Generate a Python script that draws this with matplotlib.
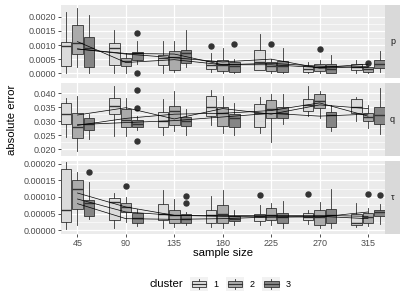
import matplotlib
matplotlib.use("Agg")
import matplotlib.pyplot as plt
from matplotlib.legend_handler import HandlerBase
from matplotlib.patches import Rectangle, Patch
from matplotlib.lines import Line2D
from matplotlib.ticker import FormatStrFormatter

plt.rcParams['font.family'] = ['Liberation Sans', 'DejaVu Sans']

sizes = [45, 90, 135, 180, 225, 270, 315]
clusters = ['1', '2', '3']
facets = ['p', 'q', 'τ']

# ---- p ----  (rows: cluster 1, 2, 3; columns: sample size)
p_lo = [[0.0, 0.0, 0.0, 0.00004, 0.0001, 0.0, 0.0],
        [0.00022, 0.0, 0.00004, 0.0, 0.0, 0.0, 0.0],
        [0.0, 0.00034, 0.00022, 0.0, 0.0, 0.0, 0.00004]]
p_q1 = [[0.00024, 0.0003, 0.0003, 0.00016, 0.0001, 0.00004, 0.0001],
        [0.00067, 0.00024, 0.0001, 0.00007, 0.00007, 0.00007, 0.00006],
        [0.00022, 0.00048, 0.00037, 0.00004, 0.00004, 0.0, 0.00019]]
p_med = [[0.00098, 0.00088, 0.00055, 0.0003, 0.0004, 0.00016, 0.00022],
         [0.00106, 0.00042, 0.00058, 0.00028, 0.00025, 0.00022, 0.00016],
         [0.0009, 0.0007, 0.0007, 0.00024, 0.00024, 0.00016, 0.00034]]
p_q3 = [[0.00112, 0.00106, 0.00066, 0.00042, 0.00084, 0.00024, 0.00034],
        [0.00172, 0.00055, 0.0008, 0.00046, 0.0004, 0.00034, 0.00022],
        [0.0013, 0.00076, 0.00084, 0.0004, 0.00043, 0.00034, 0.00046]]
p_hi = [[0.00218, 0.00152, 0.00116, 0.00073, 0.0014, 0.0004, 0.00048],
        [0.0023, 0.0007, 0.00116, 0.00088, 0.00052, 0.00046, 0.00028],
        [0.00208, 0.00116, 0.00154, 0.00052, 0.00088, 0.00064, 0.0008]]
p_mean = [[0.00086, 0.00068, 0.00055, 0.0004, 0.0005, 0.00018, 0.00024],
          [0.00112, 0.00038, 0.00048, 0.0003, 0.00035, 0.00025, 0.0002],
          [0.00086, 0.0007, 0.00068, 0.0003, 0.0003, 0.0002, 0.00032]]
# (sample size, cluster, value)
p_out = [(90, 3, 0.00142), (90, 3, 0.0), (180, 1, 0.00096), (180, 3, 0.00104),
         (225, 2, 0.00104), (270, 2, 0.00086), (315, 2, 0.00037)]

# ---- q ----
q_lo = [[0.0243, 0.0246, 0.0252, 0.0288, 0.0258, 0.0318, 0.0302],
        [0.0195, 0.0246, 0.0264, 0.0258, 0.0226, 0.031, 0.0274],
        [0.0238, 0.027, 0.025, 0.025, 0.029, 0.0264, 0.0254]]
q_q1 = [[0.029, 0.0326, 0.0278, 0.0318, 0.0278, 0.0338, 0.033],
        [0.024, 0.0278, 0.0288, 0.0282, 0.0312, 0.0346, 0.0302],
        [0.027, 0.0278, 0.0282, 0.0278, 0.031, 0.0278, 0.029]]
q_med = [[0.0326, 0.0354, 0.0302, 0.035, 0.033, 0.0357, 0.035],
         [0.0278, 0.0306, 0.0336, 0.033, 0.0342, 0.0372, 0.0314],
         [0.029, 0.029, 0.030, 0.0312, 0.033, 0.0322, 0.0322]]
q_q3 = [[0.0366, 0.0381, 0.0334, 0.0388, 0.0362, 0.0378, 0.0378],
        [0.033, 0.0345, 0.0354, 0.035, 0.0374, 0.0396, 0.033],
        [0.0312, 0.0306, 0.0316, 0.0326, 0.035, 0.0332, 0.035]]
q_hi = [[0.0381, 0.0426, 0.0378, 0.041, 0.0386, 0.0426, 0.0386],
        [0.039, 0.0381, 0.0408, 0.039, 0.0396, 0.0408, 0.0357],
        [0.0324, 0.0318, 0.0342, 0.0366, 0.0396, 0.0357, 0.0417]]
q_mean = [[0.0322, 0.0348, 0.0308, 0.0345, 0.0325, 0.0358, 0.0345],
          [0.0285, 0.031, 0.0325, 0.0328, 0.0338, 0.0365, 0.0318],
          [0.0288, 0.0295, 0.0302, 0.0315, 0.0328, 0.0318, 0.0325]]
q_out = [(90, 3, 0.041), (90, 3, 0.0348), (90, 3, 0.0228)]

# ---- tau ----
t_lo = [[0.000003, 0.000008, 0.000008, 0.00001, 0.000015, 0.000018, 0.00001],
        [0.000017, 0.000024, 0.00001, 0.000008, 0.000015, 0.000008, 0.000012],
        [0.000034, 0.000013, 0.000015, 0.000015, 0.000008, 0.000008, 0.000018]]
t_q1 = [[0.000024, 0.000031, 0.00003, 0.000022, 0.000028, 0.00003, 0.000015],
        [0.000065, 0.000055, 0.000022, 0.000022, 0.00003, 0.000015, 0.000022],
        [0.000042, 0.000021, 0.000022, 0.000028, 0.000022, 0.000022, 0.000042]]
t_med = [[0.00006, 0.000086, 0.00005, 0.000045, 0.000042, 0.00004, 0.000022],
         [0.000125, 0.000071, 0.000045, 0.00005, 0.000045, 0.00004, 0.00004],
         [0.000083, 0.000037, 0.000035, 0.000035, 0.00004, 0.000045, 0.000055]]
t_q3 = [[0.000185, 0.000097, 0.000078, 0.000062, 0.00005, 0.000052, 0.000048],
        [0.000152, 0.000083, 0.00006, 0.000075, 0.000068, 0.00006, 0.000052],
        [0.000092, 0.000052, 0.000048, 0.000042, 0.000052, 0.000065, 0.000062]]
t_hi = [[0.000204, 0.000112, 0.000122, 0.000102, 0.000075, 0.000062, 0.000082],
        [0.000175, 0.0001, 0.000095, 0.00012, 0.000082, 0.000085, 0.000068],
        [0.000144, 0.000065, 0.000055, 0.000062, 0.000088, 0.000125, 0.00008]]
t_mean = [[0.000094, 0.000055, 0.000045, 0.000042, 0.00004, 0.000042, 0.000035],
          [0.000112, 0.00007, 0.000045, 0.000045, 0.000045, 0.000045, 0.000042],
          [0.00008, 0.000035, 0.000033, 0.000035, 0.00004, 0.00004, 0.000055]]
t_out = [(45, 3, 0.000175), (90, 2, 0.000133), (135, 3, 0.000104), (135, 3, 0.000081),
         (225, 1, 0.000105), (270, 1, 0.000108), (315, 2, 0.00011), (315, 3, 0.000105)]

panel_data = {
    'p': (p_lo, p_q1, p_med, p_q3, p_hi, p_mean, p_out),
    'q': (q_lo, q_q1, q_med, q_q3, q_hi, q_mean, q_out),
    'τ': (t_lo, t_q1, t_med, t_q3, t_hi, t_mean, t_out),
}
y_ticks = {
    'p': [0.0, 0.0005, 0.001, 0.0015, 0.002],
    'q': [0.02, 0.025, 0.03, 0.035, 0.04],
    'τ': [0.0, 0.00005, 0.0001, 0.00015, 0.0002],
}
y_fmt = {'p': '%.4f', 'q': '%.3f', 'τ': '%.5f'}
y_lim = {'p': (-0.00017, 0.00242), 'q': (0.0176, 0.0436), 'τ': (-0.000011, 0.000208)}

fills = ['#DBDBDB', '#ABABAB', '#858585']
edge = '#333333'
bg = '#EBEBEB'
offsets = [-10.7, 0.0, 10.7]
box_w = 9.8

fig = plt.figure(figsize=(4.07, 3.05), dpi=100)
W, H = 407, 305
left, right = 61, 385
rows = [(5, 78), (83, 156), (161, 234)]

axes = []
for (top, bot), name in zip(rows, facets):
    ax = fig.add_axes([left / W, 1 - bot / H, (right - left) / W, (bot - top) / H])
    sax = fig.add_axes([right / W, 1 - bot / H, 15 / W, (bot - top) / H])
    sax.set_facecolor('#D9D9D9')
    sax.set_xticks([])
    sax.set_yticks([])
    for s in sax.spines.values():
        s.set_visible(False)
    sax.text(0.5, 0.5, name, ha='center', va='center',
             fontsize=6.5, color='#1A1A1A', transform=sax.transAxes)

    lo, q1, med, q3, hi, mean, out = panel_data[name]
    ax.set_facecolor(bg)
    for s in ax.spines.values():
        s.set_visible(False)
    ax.set_axisbelow(True)

    for c in range(3):
        stats = []
        for j, n in enumerate(sizes):
            fl = [v for (ss, cc, v) in out if ss == n and cc == c + 1]
            stats.append(dict(whislo=lo[c][j], q1=q1[c][j], med=med[c][j],
                              q3=q3[c][j], whishi=hi[c][j], fliers=fl))
        ax.bxp(stats, positions=[n + offsets[c] for n in sizes], widths=box_w,
               patch_artist=True, showcaps=False, manage_ticks=False,
               boxprops=dict(facecolor=fills[c], edgecolor=edge, linewidth=0.6),
               whiskerprops=dict(color=edge, linewidth=0.6),
               medianprops=dict(color=edge, linewidth=1.0),
               flierprops=dict(marker='o', markersize=3.6, markerfacecolor=edge,
                               markeredgecolor=edge, linestyle='none'))
    for c in range(3):
        ax.plot(sizes, mean[c], color='black', linewidth=0.5, zorder=5)

    ax.set_xlim(29.7, 330.8)
    ax.set_ylim(*y_lim[name])
    yt = y_ticks[name]
    ax.set_yticks(yt)
    ax.set_yticks([(a + b) / 2 for a, b in zip(yt[:-1], yt[1:])], minor=True)
    ax.yaxis.set_major_formatter(FormatStrFormatter(y_fmt[name]))
    ax.set_xticks(sizes)
    ax.grid(which='major', color='white', linewidth=0.9)
    ax.grid(which='minor', axis='y', color='white', linewidth=0.45)
    ax.tick_params(which='major', length=2.2, width=0.6, color='#333333',
                   labelsize=6.5, labelcolor='#4D4D4D', pad=1.2)
    ax.tick_params(which='minor', length=0)
    if name != 'τ':
        ax.tick_params(axis='x', labelbottom=False, length=0)
    axes.append(ax)

fig.text(12 / W, 1 - 120 / H, 'absolute error', rotation=90, ha='center',
         va='center', fontsize=8.2, color='black')
fig.text((left + right) / 2 / W, 1 - 253 / H, 'sample size', ha='center',
         va='center', fontsize=8.2, color='black')


class BoxKey(HandlerBase):
    def create_artists(self, legend, orig_handle, xdescent, ydescent,
                       width, height, fontsize, trans):
        x0, y0 = -xdescent, -ydescent
        fc = orig_handle.get_facecolor()
        cx = x0 + width / 2
        bw = width * 0.8
        bg_rect = Rectangle((x0, y0), width, height, facecolor='#F2F2F2',
                            edgecolor='none', transform=trans)
        box = Rectangle((cx - bw / 2, y0 + height * 0.25), bw, height * 0.5,
                        facecolor=fc, edgecolor=edge, linewidth=0.6, transform=trans)
        med_l = Line2D([cx - bw / 2, cx + bw / 2], [y0 + height / 2] * 2,
                       color=edge, linewidth=0.8, transform=trans)
        w1 = Line2D([cx, cx], [y0 + height * 0.1, y0 + height * 0.25],
                    color=edge, linewidth=0.6, transform=trans)
        w2 = Line2D([cx, cx], [y0 + height * 0.75, y0 + height * 0.9],
                    color=edge, linewidth=0.6, transform=trans)
        return [bg_rect, box, med_l, w1, w2]


handles = [Patch(facecolor=f) for f in fills]
fig.text(166 / W, 1 - 284 / H, 'cluster', ha='center', va='center',
         fontsize=8.2, color='black')
fig.legend(handles, clusters, handler_map={Patch: BoxKey()}, ncol=3,
           loc='center left', bbox_to_anchor=(190 / W, 1 - 284 / H),
           frameon=False, fontsize=6.5, handlelength=2.0, handleheight=1.9,
           handletextpad=0.55, columnspacing=0.9, borderpad=0, borderaxespad=0)

fig.savefig('out.png', dpi=100)
